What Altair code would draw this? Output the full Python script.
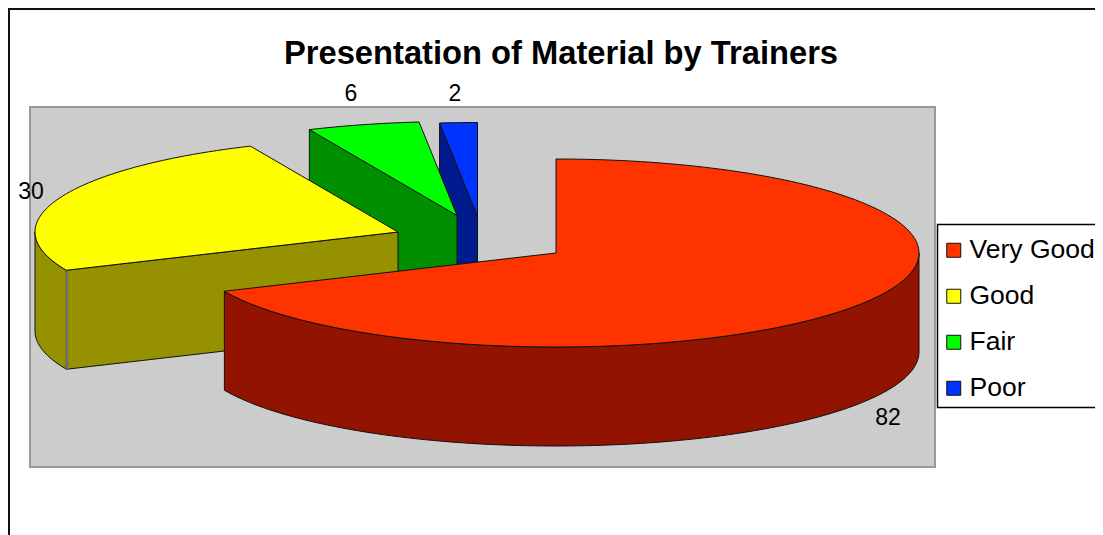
import math
import altair as alt
import pandas as pd

names = ["Very Good", "Good", "Fair", "Poor"]
values = [82, 30, 6, 2]
top_colors = ["#FF3300", "#FFFF00", "#00FF00", "#0033FF"]
side_colors = ["#911300", "#969100", "#008F00", "#001A8F"]
title_text = "Presentation of Material by Trainers"

# layout of the exploded 3D pie, in page pixels
apex_x = [556, 398, 457, 477.5]
apex_y = [253, 232, 215.5, 216.5]
label_x = [888, 31, 351, 455]
label_y = [418, 192, 94, 94]
RX, RY, DEPTH = 363, 94, 99
PANEL = dict(x0=30, x1=935, y0=107, y1=467)
PAGE_BOTTOM = 535


def edge(i, a, dz=0):
    r = math.radians(a)
    return (apex_x[i] + RX * math.sin(r), apex_y[i] - RY * math.cos(r) + dz)


def arc_points(i, a0, a1, dz=0):
    n = max(2, int(abs(a1 - a0) / 1.5))
    return [edge(i, a0 + (a1 - a0) * k / n, dz) for k in range(n + 1)]


rows = []
streak = []


def add_poly(pts, fill, name):
    pts = pts + [pts[0]]
    for k, (x, y) in enumerate(pts):
        rows.append(dict(x=x, y=y, i=k, poly=name, fill=fill))


total = sum(values)
starts = []
acc = 0
for v in values:
    starts.append(acc / total * 360)
    acc += v

pid = 0
for i in reversed(range(len(values))):
    a0 = starts[i]
    a1 = a0 + values[i] / total * 360
    # cut face on the starting radius, when it faces the viewer
    if 180 <= a0 < 360:
        ax, ay = apex_x[i], apex_y[i]
        ex, ey = edge(i, a0)
        add_poly([(ax, ay), (ex, ey), (ex, ey + DEPTH), (ax, ay + DEPTH)],
                 side_colors[i], f"p{pid:02d}")
        pid += 1
    # outer wall, front half only
    w0, w1 = max(a0, 90), min(a1, 270)
    if w0 < w1:
        topc = arc_points(i, w0, w1)
        botc = arc_points(i, w1, w0, DEPTH)
        add_poly(topc + botc, side_colors[i], f"p{pid:02d}")
        pid += 1
        if 180 <= a0 < 360:
            ex, ey = edge(i, a0)
            streak += [dict(x=ex + 0.5, y=ey + 1, s=0), dict(x=ex + 0.5, y=ey + DEPTH, s=1)]
    # top surface
    add_poly([(apex_x[i], apex_y[i])] + arc_points(i, a0, a1), top_colors[i], f"p{pid:02d}")
    pid += 1

x_scale = alt.Scale(domain=[PANEL["x0"], PANEL["x1"]], nice=False, zero=False)
y_scale = alt.Scale(domain=[PANEL["y1"], PANEL["y0"]], nice=False, zero=False)
X = alt.X("x:Q", scale=x_scale, axis=None)
Y = alt.Y("y:Q", scale=y_scale, axis=None)

polys = (
    alt.Chart(pd.DataFrame(rows))
    .mark_line(stroke="#111111", strokeWidth=1, strokeJoin="miter", clip=False)
    .encode(x=X, y=Y, order=alt.Order("i:Q"), detail="poly:N",
            fill=alt.Fill("fill:N", scale=None))
)

streak_line = (
    alt.Chart(pd.DataFrame(streak))
    .mark_line(stroke="#6E6E6E", strokeWidth=2.5)
    .encode(x=X, y=Y, order=alt.Order("s:Q"))
)

labels = (
    alt.Chart(pd.DataFrame(dict(x=label_x, y=label_y, t=[str(v) for v in values])))
    .mark_text(font="Liberation Sans", fontSize=23, color="black", align="center", baseline="middle")
    .encode(x=X, y=Y, text="t:N")
)

frame_h = (
    alt.Chart(pd.DataFrame(dict(x=[8], x2=[1103], y=[9])))
    .mark_rule(color="#111111", strokeWidth=2)
    .encode(x=X, x2="x2:Q", y=Y)
)
frame_v = (
    alt.Chart(pd.DataFrame(dict(x=[9], y=[8], y2=[PAGE_BOTTOM])))
    .mark_rule(color="#111111", strokeWidth=2)
    .encode(x=X, y=Y, y2="y2:Q")
)

legend_box = (
    alt.Chart(pd.DataFrame(dict(x=[937.5], x2=[1120], y=[224.5], y2=[407.5])))
    .mark_rect(fill="white", stroke="#000000", strokeWidth=1.5, opacity=1, clip=False)
    .encode(x=X, x2="x2:Q", y=Y, y2="y2:Q")
)

legend_src = (
    alt.Chart(pd.DataFrame(dict(name=names, x=[apex_x[0]] * 4, y=[apex_y[0]] * 4)))
    .mark_square(size=0, opacity=0)
    .encode(
        x=X, y=Y,
        color=alt.Color(
            "name:N",
            scale=alt.Scale(domain=names, range=top_colors),
            legend=alt.Legend(
                title=None, orient="none", legendX=912.5, legendY=130,
                padding=0,
                symbolType="square", symbolSize=196, symbolOpacity=1, symbolOffset=-2,
                symbolStrokeColor="#111111", symbolStrokeWidth=1,
                labelFont="Liberation Sans", labelFontSize=26.5, labelColor="black",
                labelLimit=400, labelOffset=2.5, rowPadding=19,
            ),
        ),
    )
)

chart = (
    alt.layer(frame_h, frame_v, legend_box, polys, streak_line, labels, legend_src)
    .properties(
        width=905, height=360,
        padding={"left": 22, "top": 99, "right": 160, "bottom": 68},
        autosize=alt.AutoSizeParams(type="none"),
        title=alt.TitleParams(
            title_text, font="Liberation Sans", fontSize=32.7, fontWeight="bold",
            color="black", anchor="middle", dx=78.5, offset=0, dy=63.5,
        ),
    )
    .configure_view(fill="#CCCCCC", stroke="#999999", strokeWidth=2)
)

chart.save("out.html", embed_options={"renderer": "svg", "actions": False})
